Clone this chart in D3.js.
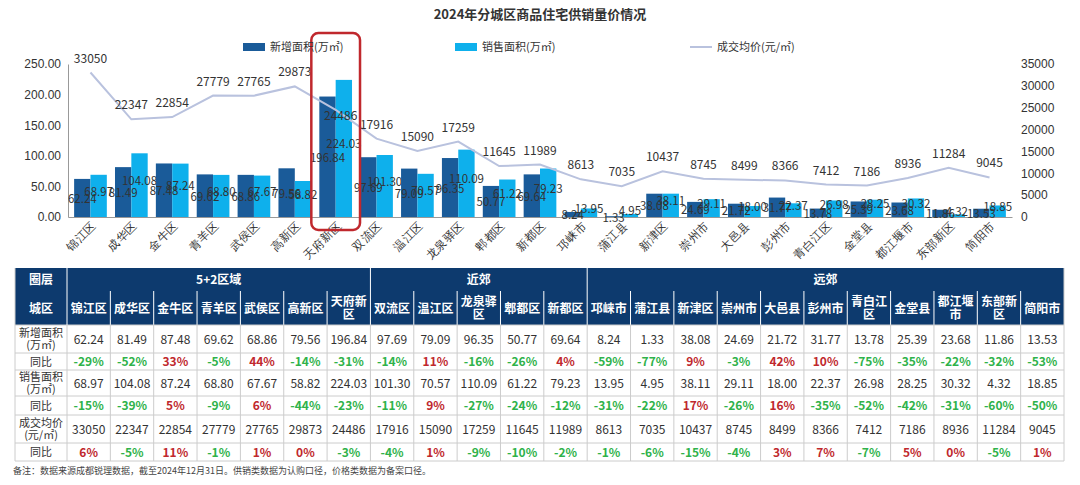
<!DOCTYPE html><html><head><meta charset="utf-8"><script src="https://cdn.jsdelivr.net/npm/d3@7"></script>
<style>body{margin:0;background:#fff;font-family:"Noto Sans CJK SC","Microsoft YaHei",sans-serif}</style></head><body><svg id="c" width="1080" height="485"></svg><script>
const districts=["锦江区","成华区","金牛区","青羊区","武侯区","高新区","天府新区","双流区","温江区","龙泉驿区","郫都区","新都区","邛崃市","蒲江县","新津区","崇州市","大邑县","彭州市","青白江区","金堂县","都江堰市","东部新区","简阳市"];
const tableNames=["锦江区","成华区","金牛区","青羊区","武侯区","高新区","天府新\n区","双流区","温江区","龙泉驿\n区","郫都区","新都区","邛崃市","蒲江县","新津区","崇州市","大邑县","彭州市","青白江\n区","金堂县","都江堰\n市","东部新\n区","简阳市"];
const newArea=[62.24,81.49,87.48,69.62,68.86,79.56,196.84,97.69,79.09,96.35,50.77,69.64,8.24,1.33,38.08,24.69,21.72,31.77,13.78,25.39,23.68,11.86,13.53];
const newYoY=["-29%","-52%","33%","-5%","44%","-14%","-31%","-14%","11%","-16%","-26%","4%","-59%","-77%","9%","-3%","42%","10%","-75%","-35%","-22%","-32%","-53%"];
const saleArea=[68.97,104.08,87.24,68.80,67.67,58.82,224.03,101.30,70.57,110.09,61.22,79.23,13.95,4.95,38.11,29.11,18.00,22.37,26.98,28.25,30.32,4.32,18.85];
const saleYoY=["-15%","-39%","5%","-9%","6%","-44%","-23%","-11%","9%","-27%","-24%","-12%","-31%","-22%","17%","-26%","16%","-35%","-52%","-42%","-31%","-60%","-50%"];
const price=[33050,22347,22854,27779,27765,29873,24486,17916,15090,17259,11645,11989,8613,7035,10437,8745,8499,8366,7412,7186,8936,11284,9045];
const priceYoY=["6%","-5%","11%","-1%","1%","0%","-3%","-4%","1%","-9%","-10%","-2%","-1%","-6%","-15%","-4%","3%","7%","-7%","5%","0%","-5%","1%"];
const groups=[["5+2区域",7],["近郊",5],["远郊",11]];
const leftTicks=[0,50,100,150,200,250], rightTicks=[0,5000,10000,15000,20000,25000,30000,35000];
const C1="#1a5b99",C2="#0eb0ec",CL="#b9c2de";
const svg=d3.select("#c");
svg.append("text").attr("x",540).attr("y",19).attr("text-anchor","middle").attr("font-size",13).attr("font-weight","bold").attr("fill","#333").text("2024年分城区商品住宅供销量价情况");
const x=d3.scaleBand().domain(districts).range([68,1012]).paddingInner(0.2).paddingOuter(0.15);
const yL=d3.scaleLinear().domain([0,250]).range([217,64]);
const yR=d3.scaleLinear().domain([0,35000]).range([217,64]);
const ax=svg.append("g").attr("transform","translate(68,0)").call(d3.axisLeft(yL).tickValues(leftTicks).tickFormat(d3.format(".2f")).tickSize(0));
ax.select(".domain").attr("stroke","#999");ax.selectAll("text").attr("font-size",12).attr("fill","#333").attr("dx",-4);
const ar=svg.append("g").attr("transform","translate(1012,0)").call(d3.axisRight(yR).tickValues(rightTicks).tickFormat(d3.format("d")).tickSize(0));
ar.select(".domain").remove();ar.selectAll("text").attr("font-size",12).attr("fill","#333").attr("dx",6);
const bx=svg.append("g").attr("transform","translate(0,217)").call(d3.axisBottom(x).tickSize(0));
bx.select(".domain").attr("stroke","#999");
bx.selectAll("text").attr("font-size",11.5).attr("fill","#333").attr("text-anchor","end").attr("transform","rotate(-45)").attr("dx",-2).attr("dy",8);
const bw=x.bandwidth()/2;
districts.forEach((d,i)=>{
 [[newArea[i],C1,0],[saleArea[i],C2,1]].forEach(([v,c,k])=>{
  const xx=x(d)+k*bw;
  svg.append("rect").attr("x",xx).attr("y",yL(v)).attr("width",bw).attr("height",217-yL(v)).attr("fill",c);
 });
 svg.append("text").attr("x",x(d)+bw*0.5).attr("y",(yL(newArea[i])+217)/2+5).attr("text-anchor","middle").attr("font-size",11.5).attr("fill","#333").text(newArea[i].toFixed(2));
 svg.append("text").attr("x",x(d)+bw*1.5).attr("y",(yL(saleArea[i])+217)/2).attr("text-anchor","middle").attr("font-size",11.5).attr("fill","#333").text(saleArea[i].toFixed(2));
});
const line=d3.line().x((d,i)=>x(districts[i])+x.bandwidth()/2).y(d=>yR(d));
svg.append("path").attr("d",line(price)).attr("fill","none").attr("stroke",CL).attr("stroke-width",2);
price.forEach((p,i)=>svg.append("text").attr("x",x(districts[i])+x.bandwidth()/2+(i==6?5:0)).attr("y",yR(p)-(i==6?-10:10)).attr("text-anchor","middle").attr("font-size",12).attr("fill","#333").text(p));
svg.append("rect").attr("x",x("天府新区")-8).attr("y",33).attr("width",x.bandwidth()+16).attr("height",197).attr("rx",7).attr("fill","none").attr("stroke","#c0282d").attr("stroke-width",2.5);
const lg=svg.append("g").attr("font-size",11).attr("fill","#333");
lg.append("rect").attr("x",243).attr("y",43).attr("width",22).attr("height",8).attr("fill",C1);
lg.append("text").attr("x",270).attr("y",51).text("新增面积(万㎡)");
lg.append("rect").attr("x",455).attr("y",43).attr("width",22).attr("height",8).attr("fill",C2);
lg.append("text").attr("x",482).attr("y",51).text("销售面积(万㎡)");
lg.append("line").attr("x1",690).attr("x2",712).attr("y1",47).attr("y2",47).attr("stroke",CL).attr("stroke-width",2);
lg.append("text").attr("x",717).attr("y",51).text("成交均价(元/㎡)");
const tx0=15,tx1=67,tx2=1064,cw=(tx2-tx1)/23;
const rows=[268,291,325,353,370,396,415,443,461];
const HB="#0d3a6e";
const t=svg.append("g");
t.append("rect").attr("x",tx0).attr("y",rows[0]).attr("width",tx2-tx0).attr("height",rows[2]-rows[0]).attr("fill",HB);
const lbl=(xc,yc,s,o={})=>{const lines=s.split("\n");const fs=o.fs||11;const tt=t.append("text").attr("x",xc).attr("text-anchor","middle").attr("font-size",fs).attr("fill",o.c||"#333").attr("font-weight",o.b?"bold":"normal");lines.forEach((l,k)=>tt.append("tspan").attr("x",xc).attr("y",yc+fs*0.38+(k-(lines.length-1)/2)*(fs+1)).text(l));};
lbl((tx0+tx1)/2,(rows[0]+rows[1])/2,"圈层",{c:"#fff",b:1,fs:12});
lbl((tx0+tx1)/2,(rows[1]+rows[2])/2,"城区",{c:"#fff",b:1,fs:12});
let gi=0;groups.forEach(([g,n])=>{const a=tx1+gi*cw,b=tx1+(gi+n)*cw;lbl((a+b)/2,(rows[0]+rows[1])/2,g,{c:"#fff",b:1,fs:12});if(gi>0)t.append("line").attr("x1",a).attr("x2",a).attr("y1",rows[0]).attr("y2",rows[1]).attr("stroke","#fff");gi+=n;});
tableNames.forEach((n,i)=>lbl(tx1+(i+.5)*cw,(rows[1]+rows[2])/2,n,{c:"#fff",b:1,fs:12}));
const rowLabels=["新增面积\n(万㎡)","同比","销售面积\n(万㎡)","同比","成交均价\n(元/㎡)","同比"];
const rowData=[newArea.map(v=>v.toFixed(2)),newYoY,saleArea.map(v=>v.toFixed(2)),saleYoY,price.map(String),priceYoY];
rowLabels.forEach((r,ri)=>{const yc=(rows[ri+2]+rows[ri+3])/2;lbl((tx0+tx1)/2,yc,r,{fs:11});
 rowData[ri].forEach((v,i)=>{const pct=ri%2==1;const col=pct?(v.startsWith("-")?"#2fb24a":"#c0282d"):"#333";lbl(tx1+(i+.5)*cw,yc,v,{c:col,b:pct,fs:12});});});
for(let i=0;i<23;i++)t.append("line").attr("x1",tx1+i*cw).attr("x2",tx1+i*cw).attr("y1",rows[2]).attr("y2",rows[8]).attr("stroke","#ccc");
for(let i=1;i<23;i++)t.append("line").attr("x1",tx1+i*cw).attr("x2",tx1+i*cw).attr("y1",rows[1]).attr("y2",rows[2]).attr("stroke","#fff");
for(let r=2;r<9;r++)t.append("line").attr("x1",tx0).attr("x2",tx2).attr("y1",rows[r]).attr("y2",rows[r]).attr("stroke","#ccc");
t.append("line").attr("x1",tx0).attr("x2",tx0).attr("y1",rows[0]).attr("y2",rows[8]).attr("stroke","#ccc");
t.append("line").attr("x1",tx2).attr("x2",tx2).attr("y1",rows[0]).attr("y2",rows[8]).attr("stroke","#ccc");
t.append("line").attr("x1",tx1).attr("x2",tx1).attr("y1",rows[0]).attr("y2",rows[2]).attr("stroke","#fff");
svg.append("text").attr("x",13).attr("y",474).attr("font-size",9).attr("fill","#444").text("备注：数据来源成都锐理数据，截至2024年12月31日。供销类数据为认购口径，价格类数据为备案口径。");
</script></body></html>
